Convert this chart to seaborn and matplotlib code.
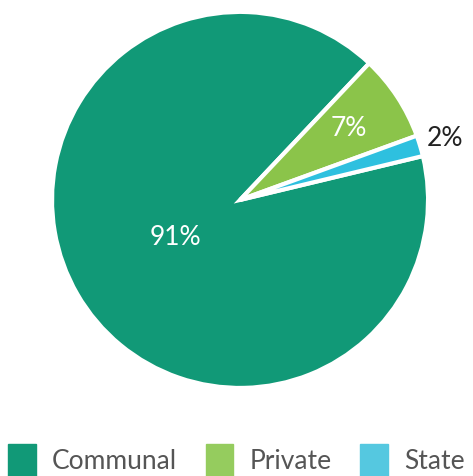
import numpy as np
import matplotlib
matplotlib.use('Agg')
import matplotlib.pyplot as plt
import seaborn as sns

# dados
categories = ['Communal', 'Private', 'State']
shares = [90.8, 7.4, 1.8]
slice_colors = ['#119977', '#8bc44a', '#2ec0df']
legend_colors = ['#119977', '#95cc5e', '#55c8e0']

sns.set_theme(style='white')
plt.rcParams['font.family'] = ['Lato', 'DejaVu Sans']

fig = plt.figure(figsize=(4.73, 4.76), dpi=100)
ax = fig.add_axes([0.110, 0.185, 0.795, 0.790])

wedges, texts, autotexts = ax.pie(
    shares, colors=sns.color_palette(slice_colors), startangle=13.5,
    counterclock=False, autopct='%.0f%%',
    wedgeprops=dict(edgecolor='white', linewidth=3),
    textprops=dict(fontsize=19))

# posição dos rótulos por fatia
dists = [0.40, 0.69, 1.14]
label_colors = ['white', 'white', '#222222']
for w, t, d, c in zip(wedges, autotexts, dists, label_colors):
    ang = np.deg2rad((w.theta1 + w.theta2) / 2)
    t.set_position((d * np.cos(ang), d * np.sin(ang)))
    t.set_color(c)
ax.set_xlim(-1, 1)
ax.set_ylim(-1, 1)
ax.set_aspect('equal')

handles = [plt.Rectangle((0, 0), 1, 1, color=c) for c in legend_colors]
fig.legend(handles, categories, loc='lower left', bbox_to_anchor=(-0.022, -0.038),
           ncol=3, frameon=False, fontsize=19, handlelength=1.05, handleheight=1.45,
           columnspacing=1.1, handletextpad=0.6, borderpad=0.2,
           labelcolor='#555555')

plt.savefig('out.png', dpi=100)
plt.close()
